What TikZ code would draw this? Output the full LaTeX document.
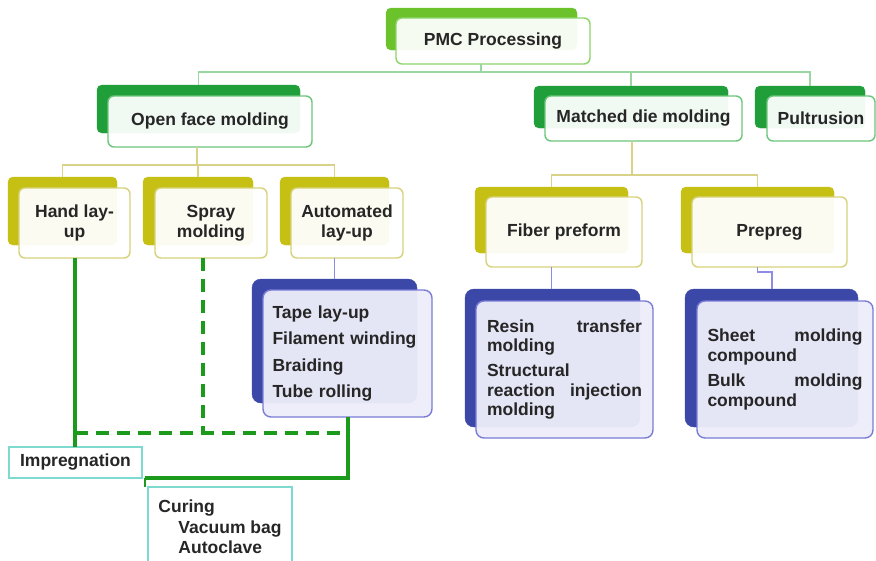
\documentclass[tikz,border=0pt]{standalone}
\usepackage{fontspec}
\setmainfont{Liberation Sans}
\definecolor{txt}{HTML}{262626}
\definecolor{cPMC}{HTML}{6CC22B}
\definecolor{cPMCf}{HTML}{8CD56B}
\definecolor{cL2}{HTML}{1F9E3A}
\definecolor{cL2f}{HTML}{6CC67C}
\definecolor{cOl}{HTML}{C6BF14}
\definecolor{cOlf}{HTML}{D7D27C}
\definecolor{cBl}{HTML}{3C48A8}
\definecolor{cBlf}{HTML}{7A7CD6}
\definecolor{cBlfill}{HTML}{EEEEFA}
\definecolor{cTeal}{HTML}{7ED9CF}
\definecolor{lnTop}{HTML}{99D6A0}
\definecolor{lnOl}{HTML}{D9D38A}
\definecolor{lnBl}{HTML}{8D8DE6}
\definecolor{gThick}{HTML}{1B9A1B}
\newcommand{\fullline}[1]{\leavevmode\hbox to 155pt{#1}}
\begin{document}
\begin{tikzpicture}[x=1pt,y=-1pt,
  every node/.style={inner sep=0pt, outer sep=0pt, text=txt,
    font=\fontsize{17.5}{20}\selectfont\bfseries},
  back/.style={draw=#1, fill=#1, rounded corners=5pt, anchor=north west},
  front/.style={draw=#1, line width=1.4pt, fill=white, fill opacity=0.94,
    text opacity=1, rounded corners=6pt, anchor=north west, align=center},
  bfront/.style={draw=cBlf, line width=1.4pt, fill=cBlfill, fill opacity=0.95,
    text opacity=1, rounded corners=8pt, anchor=north west},
  tealbox/.style={draw=cTeal, line width=1.2pt, fill=white, anchor=north west},
  conntop/.style={draw=lnTop, line width=1.4pt},
  connol/.style={draw=lnOl, line width=1.4pt},
  connbl/.style={draw=lnBl, line width=1.4pt},
  gsolid/.style={draw=gThick, line width=4pt},
  gdash/.style={draw=gThick, line width=4pt, dash pattern=on 13pt off 8pt}]
\fill[white] (0,0) rectangle (876,560);
\clip (0,0) rectangle (876,560);

\coordinate (j1) at (481,72);
\coordinate (j2) at (197,165);
\coordinate (j3) at (632,175);
\coordinate (k1) at (772,272);
\coordinate (d1) at (203,433);
\coordinate (g2) at (145,478);

% ---------------- level 1 ----------------
\node[back=cPMC, minimum width=191pt, minimum height=42pt] (pmcB) at (386,8) {};
\node[front=cPMCf, minimum width=194pt, minimum height=46pt] (pmc) at (396,18) {PMC Processing};

% ---------------- level 2 ----------------
\node[back=cL2, minimum width=203pt, minimum height=48pt] (ofmB) at (97,85) {};
\node[front=cL2f, minimum width=204pt, minimum height=51pt] (ofm) at (108,96) {Open face molding};
\node[back=cL2, minimum width=194pt, minimum height=42pt] (mdmB) at (534,86) {};
\node[front=cL2f, minimum width=197pt, minimum height=45pt] (mdm) at (545,96) {Matched die molding};
\node[back=cL2, minimum width=110pt, minimum height=42pt] (pulB) at (755,86) {};
\node[front=cL2f, minimum width=108pt, minimum height=45pt] (pul) at (767,96) {Pultrusion};

% ---------------- level 3 ----------------
\node[back=cOl, minimum width=109pt, minimum height=68pt] (handB) at (8,177) {};
\node[front=cOlf, minimum width=111pt, minimum height=70pt] (hand) at (19,188) {Hand lay-\\up};
\node[back=cOl, minimum width=110pt, minimum height=68pt] (sprayB) at (143,177) {};
\node[front=cOlf, minimum width=112pt, minimum height=70pt] (spray) at (155,188) {Spray\\molding};
\node[back=cOl, minimum width=109pt, minimum height=68pt] (autoB) at (280,177) {};
\node[front=cOlf, minimum width=112pt, minimum height=70pt] (auto) at (291,188) {Automated\\lay-up};
\node[back=cOl, minimum width=153pt, minimum height=66pt] (fibB) at (475,187) {};
\node[front=cOlf, minimum width=156pt, minimum height=70pt] (fib) at (486,197) {Fiber preform};
\node[back=cOl, minimum width=153pt, minimum height=66pt] (prepB) at (681,187) {};
\node[front=cOlf, minimum width=155pt, minimum height=70pt] (prep) at (692,197) {Prepreg};

% ---------------- level 4 ----------------
\node[back=cBl, minimum width=165pt, minimum height=124pt, rounded corners=9pt] (tapeB) at (252,279) {};
\node[bfront, minimum width=169pt, minimum height=127pt, align=left, text width=150pt,
  font=\fontsize{17.5}{26.5}\selectfont\bfseries] (tape) at (263,290)
  {Tape lay-up\\Filament winding\\Braiding\\Tube rolling};
\node[back=cBl, minimum width=175pt, minimum height=138pt, rounded corners=9pt] (resB) at (465,289) {};
\node[bfront, minimum width=177pt, minimum height=137pt, align=left, text width=155pt,
  font=\fontsize{17.5}{19.5}\selectfont\bfseries] (res) at (476,301)
  {\fullline{Resin\hfill transfer}\\molding\\[5.5pt]Structural\\\fullline{reaction\hfill injection}\\molding};
\node[back=cBl, minimum width=173pt, minimum height=138pt, rounded corners=9pt] (shB) at (685,289) {};
\node[bfront, minimum width=176pt, minimum height=137pt, align=left, text width=155pt,
  font=\fontsize{17.5}{20}\selectfont\bfseries] (sh) at (697,301)
  {\fullline{Sheet\hfill molding}\\compound\\[5pt]\fullline{Bulk\hfill molding}\\compound};

% ---------------- teal boxes ----------------
\node[tealbox, minimum width=133pt, minimum height=31pt] (imp) at (9,447) {Impregnation};
\node[tealbox, minimum width=144pt, minimum height=80pt, align=left,
  font=\fontsize{17.5}{20.5}\selectfont\bfseries] (cur) at (148,487)
  {Curing\\\hspace*{20pt}Vacuum bag\\\hspace*{20pt}Autoclave};

% ---------------- connectors ----------------
\draw[conntop] (pmc.south -| j1) -- (j1);
\draw[conntop] (ofmB.north) |- (pulB.north |- j1) -- (pulB.north);
\draw[conntop] (mdmB.north) -- (mdmB.north |- j1);

\draw[connol] (ofm.south -| j2) -- (j2);
\draw[connol] (handB.north) |- (autoB.north |- j2) -- (autoB.north);
\draw[connol] (sprayB.north) -- (sprayB.north |- j2);
\draw[connol] (mdm.south -| j3) -- (j3);
\draw[connol] (fibB.north) |- (prepB.north |- j3) -- (prepB.north);

\draw[connbl] (auto.south -| tapeB.north) -- (tapeB.north);
\draw[connbl] (fib.south -| fibB.north) -- (resB.north -| fibB.north);
\draw[connbl] (prep.south -| prepB.north) |- (k1) -- (k1 |- shB.north);

\draw[gsolid] (hand.south) -- (hand.south |- imp.north);
\draw[gdash] (spray.south -| d1) -- (d1);
\draw[gdash] (hand.south |- d1) -- (tape.south |- d1);
\draw[gsolid] (tape.south) |- (g2);
\draw[gThick, line width=2pt] (g2) -- (g2 |- cur.north);
\end{tikzpicture}
\end{document}
